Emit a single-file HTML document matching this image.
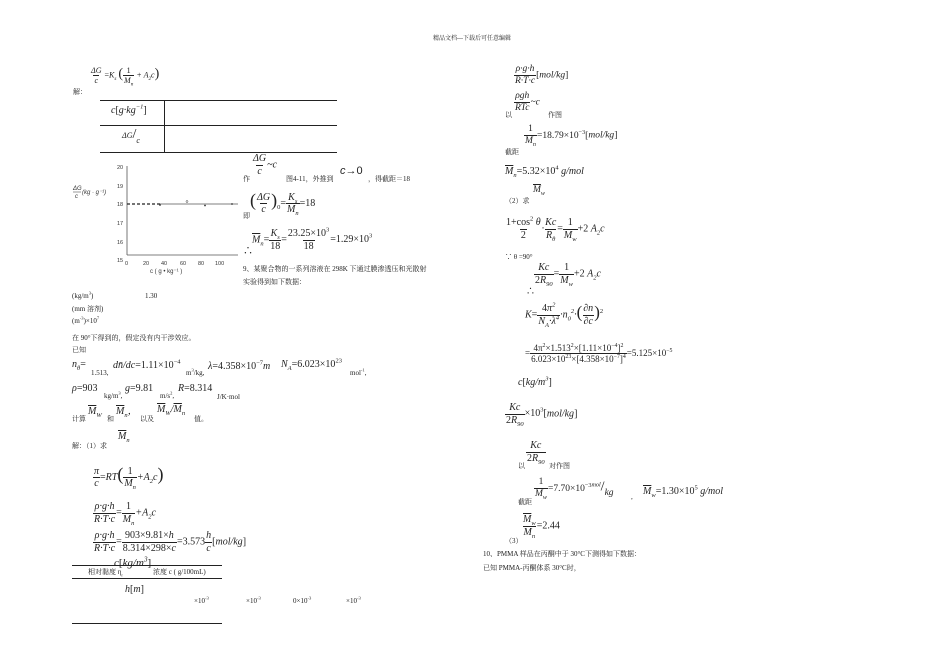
<!DOCTYPE html>
<html><head><meta charset="utf-8">
<style>
body{margin:0;background:#fff;}
#p{position:relative;width:950px;height:672px;overflow:hidden;background:#fff;font-family:"Liberation Serif","Noto Serif CJK SC","Noto Sans CJK SC",serif;color:#222;}
.a{position:absolute;white-space:nowrap;line-height:1;}
.s{font-size:7px;}
.m{font-size:10px;font-style:italic;}
.f{display:inline-flex;flex-direction:column;align-items:center;vertical-align:middle;}
.f>span{padding:0 1px;line-height:1.15;}
.f>span+span{border-top:1px solid #222;}
.l{position:absolute;background:#222;}
sup,sub{font-size:65%;line-height:0;}
.up{font-style:normal;}
.ob{text-decoration:overline;}
</style></head><body><div id="p">

<div class="a" style="left:433px;top:36px;font-size:6px;">精品文档---下载后可任意编辑</div>

<!-- Left column -->
<div class="a m" style="left:90px;top:66px;font-size:8px;"><span class="f"><span>ΔG</span><span>c</span></span> <span class="up">=</span>K<sub>s</sub> <span style="font-size:14px;font-style:normal;">(</span><span class="f"><span class="up">1</span><span>M<sub>n</sub></span></span> + A<sub>2</sub>c<span style="font-size:14px;font-style:normal;">)</span></div>
<div class="a s" style="left:73px;top:89px;">解：</div>

<div class="l" style="left:100px;top:100px;width:237px;height:1px;"></div>
<div class="l" style="left:100px;top:125px;width:237px;height:1px;"></div>
<div class="l" style="left:100px;top:152px;width:237px;height:1px;"></div>
<div class="l" style="left:164px;top:100px;width:1px;height:52px;"></div>
<div class="a m" style="left:111px;top:106px;">c<span class="up">[</span>g·kg<sup>−1</sup><span class="up">]</span></div>
<div class="a m" style="left:122px;top:128px;font-size:8px;">ΔG<span style="font-size:14px;font-style:normal;">/</span><span style="position:relative;top:5px;">c</span></div>

<!-- chart -->
<svg class="a" style="left:70px;top:160px;" width="180" height="115" viewBox="70 160 180 115">
<g font-family="Liberation Sans,sans-serif" font-size="5.5" fill="#333">
<line x1="127" y1="166" x2="127" y2="255" stroke="#555" stroke-width="0.8"/>
<line x1="127" y1="255" x2="238" y2="255" stroke="#555" stroke-width="0.8"/>
<text x="117" y="169">20</text><text x="117" y="188">19</text><text x="117" y="206">18</text>
<text x="117" y="225">17</text><text x="117" y="244">16</text><text x="117" y="262">15</text>
<text x="125" y="265">0</text><text x="143" y="265">20</text><text x="161" y="265">40</text>
<text x="180" y="265">60</text><text x="198" y="265">80</text><text x="215" y="265">100</text>
<text x="150" y="273" font-size="6">c ( g • kg⁻¹ )</text>
<text x="73" y="190" font-style="italic" font-size="6">ΔG</text>
<line x1="73" y1="192" x2="81" y2="192" stroke="#333" stroke-width="0.5"/>
<text x="75" y="198" font-style="italic" font-size="6">c</text>
<text x="82" y="194" font-style="italic" font-size="6">(kg · g⁻¹)</text>
<line x1="127" y1="204" x2="160" y2="204" stroke="#222" stroke-width="1.2" stroke-dasharray="3,2"/>
<line x1="160" y1="204" x2="238" y2="204" stroke="#555" stroke-width="0.7"/>
<circle cx="160" cy="205" r="0.9" fill="#333"/>
<circle cx="187" cy="201.5" r="1" fill="none" stroke="#333" stroke-width="0.5"/>
<circle cx="205" cy="205.5" r="0.9" fill="#333"/>
<circle cx="232" cy="204" r="0.9" fill="#333"/>
</g></svg>

<div class="a m" style="left:252px;top:153px;"><span class="f"><span>ΔG</span><span>c</span></span>~c</div>
<div class="a s" style="left:243px;top:176px;">作</div>
<div class="a s" style="left:286px;top:176px;">图4-11，外推到</div>
<div class="a" style="left:340px;top:166px;font-size:11px;font-family:'Liberation Sans',sans-serif;font-style:italic;">c<span style="font-style:normal;">→0</span></div>
<div class="a s" style="left:368px;top:176px;">，得截距＝18</div>

<div class="a m" style="left:250px;top:191px;"><span style="font-size:18px;font-style:normal;">(</span><span class="f"><span>ΔG</span><span>c</span></span><span style="font-size:18px;font-style:normal;">)</span><sub class="up">0</sub><span class="up">=</span><span class="f"><span>K<sub>s</sub></span><span>M<sub>n</sub></span></span><span class="up">=18</span></div>
<div class="a s" style="left:243px;top:213px;">即</div>

<div class="a m" style="left:252px;top:228px;"><span class="ob">M</span><sub>n</sub><span class="up">=</span><span class="f"><span>K<sub>s</sub></span><span class="up">18</span></span><span class="up">=</span><span class="f"><span class="up">23.25×10<sup>3</sup></span><span class="up">18</span></span><span class="up">=1.29×10<sup>3</sup></span></div>
<div class="a" style="left:243px;top:247px;font-size:10px;">∴</div>

<div class="a s" style="left:243px;top:266px;">9、某聚合物的一系列溶液在 298K 下通过膜渗透压和光散射</div>
<div class="a s" style="left:243px;top:279px;">实验得到如下数据：</div>

<div class="a s" style="left:72px;top:293px;">(kg/m<sup>3</sup>)</div>
<div class="a s" style="left:145px;top:293px;">1.30</div>
<div class="a s" style="left:72px;top:306px;">(mm 溶剂)</div>
<div class="a s" style="left:72px;top:318px;">(m<sup>-3</sup>)×10<sup>7</sup></div>
<div class="a s" style="left:72px;top:335px;">在 90°下得到的，假定没有内干涉效应。</div>
<div class="a s" style="left:72px;top:347px;">已知</div>

<div class="a m" style="left:72px;top:360px;">n<sub>θ</sub><span class="up">=</span></div>
<div class="a s" style="left:91px;top:370px;">1.513,</div>
<div class="a m" style="left:113px;top:361px;">dn̄/dc<span class="up">=1.11×10<sup>−4</sup></span></div>
<div class="a s" style="left:186px;top:370px;">m<sup>3</sup>/kg,</div>
<div class="a m" style="left:208px;top:362px;">λ<span class="up">=4.358×10<sup>−7</sup></span>m</div>
<div class="a m" style="left:281px;top:360px;">N<sub>A</sub><span class="up">=6.023×10<sup>23</sup></span></div>
<div class="a s" style="left:350px;top:370px;">mol<sup>-1</sup>,</div>
<div class="a m" style="left:72px;top:384px;">ρ<span class="up">=903</span></div>
<div class="a s" style="left:104px;top:393px;">kg/m<sup>3</sup>,</div>
<div class="a m" style="left:125px;top:384px;">g<span class="up">=9.81</span></div>
<div class="a s" style="left:160px;top:393px;">m/s<sup>2</sup>,</div>
<div class="a m" style="left:178px;top:384px;">R<span class="up">=8.314</span></div>
<div class="a s" style="left:217px;top:394px;">J/K·mol</div>

<div class="a s" style="left:72px;top:416px;">计算</div>
<div class="a m" style="left:88px;top:407px;"><span class="ob">M</span><sub>W</sub></div>
<div class="a s" style="left:107px;top:416px;">和</div>
<div class="a m" style="left:116px;top:407px;"><span class="ob">M</span><sub>n</sub>，</div>
<div class="a s" style="left:140px;top:416px;">以及</div>
<div class="a m" style="left:157px;top:405px;"><span class="ob">M</span><sub>W</sub>/<span class="ob">M</span><sub>n</sub></div>
<div class="a s" style="left:194px;top:416px;">值。</div>

<div class="a s" style="left:72px;top:443px;">解：（1）求</div>
<div class="a m" style="left:118px;top:432px;"><span class="ob">M</span><sub>n</sub></div>

<div class="a m" style="left:93px;top:465px;"><span class="f"><span>π</span><span>c</span></span><span class="up">=</span>RT<span style="font-size:18px;font-style:normal;">(</span><span class="f"><span class="up">1</span><span>M<sub>n</sub></span></span>+A<sub>2</sub>c<span style="font-size:18px;font-style:normal;">)</span></div>
<div class="a m" style="left:93px;top:501px;"><span class="f"><span>ρ·g·h</span><span>R·T·c</span></span><span class="up">=</span><span class="f"><span class="up">1</span><span>M<sub>n</sub></span></span>+A<sub>2</sub>c</div>
<div class="a m" style="left:93px;top:530px;"><span class="f"><span>ρ·g·h</span><span>R·T·c</span></span><span class="up">=</span><span class="f up"><span>903×9.81×<i>h</i></span><span>8.314×298×<i>c</i></span></span><span class="up">=3.573</span><span class="f"><span>h</span><span>c</span></span><span class="up">[</span>mol/kg<span class="up">]</span></div>

<div class="l" style="left:72px;top:565px;width:150px;height:1px;"></div>
<div class="l" style="left:72px;top:578px;width:150px;height:1px;"></div>
<div class="a m" style="left:114px;top:558px;font-size:11px;">c<span class="up">[</span>kg/m<sup>3</sup><span class="up">]</span></div>
<div class="a s" style="left:88px;top:569px;">相对黏度 η<sub>r</sub></div>
<div class="a s" style="left:153px;top:569px;">浓度 c ( g/100mL)</div>
<div class="a m" style="left:125px;top:585px;">h<span class="up">[</span>m<span class="up">]</span></div>
<div class="a s" style="left:194px;top:598px;">×10<sup>-3</sup></div>
<div class="a s" style="left:246px;top:598px;">×10<sup>-3</sup></div>
<div class="a s" style="left:293px;top:598px;">0×10<sup>-3</sup></div>
<div class="a s" style="left:346px;top:598px;">×10<sup>-3</sup></div>
<div class="l" style="left:72px;top:623px;width:150px;height:1px;"></div>

<!-- Right column -->
<div class="a m" style="left:514px;top:64px;font-size:9.5px;"><span class="f"><span>ρ·g·h</span><span>R·T·c</span></span><span class="up">[</span>mol/kg<span class="up">]</span></div>
<div class="a m" style="left:514px;top:91px;font-size:9.5px;"><span class="f"><span>ρgh</span><span>RTc</span></span>~c</div>
<div class="a s" style="left:505px;top:112px;">以</div>
<div class="a s" style="left:548px;top:112px;">作图</div>
<div class="a m" style="left:524px;top:124px;font-size:9.5px;"><span class="f"><span class="up">1</span><span><span class="ob">M</span><sub>n</sub></span></span><span class="up">=18.79×10<sup>−3</sup>[</span>mol/kg<span class="up">]</span></div>
<div class="a s" style="left:505px;top:149px;">截距</div>
<div class="a m" style="left:505px;top:167px;font-size:10px;"><span class="ob">M</span><sub>n</sub><span class="up">=5.32×10<sup>4</sup></span> g/mol</div>
<div class="a s" style="left:505px;top:198px;">（2）求</div>
<div class="a m" style="left:533px;top:186px;font-size:9.5px;"><span class="ob">M</span><sub>w</sub></div>
<div class="a m" style="left:505px;top:217px;font-size:10px;"><span class="f"><span class="up">1+cos<sup>2</sup> <i>θ</i></span><span class="up">2</span></span>·<span class="f"><span>Kc</span><span>R<sub>θ</sub></span></span><span class="up">=</span><span class="f"><span class="up">1</span><span><span class="ob">M</span><sub>w</sub></span></span><span class="up">+2 </span>A<sub>2</sub>c</div>
<div class="a s" style="left:505px;top:254px;">∵ θ =90°</div>
<div class="a m" style="left:534px;top:262px;font-size:10px;"><span class="f"><span>Kc</span><span><span class="up">2</span>R<sub>90</sub></span></span><span class="up">=</span><span class="f"><span class="up">1</span><span><span class="ob">M</span><sub>w</sub></span></span><span class="up">+2 </span>A<sub>2</sub>c</div>
<div class="a" style="left:526px;top:287px;font-size:9px;">∴</div>
<div class="a m" style="left:525px;top:303px;font-size:10px;">K<span class="up">=</span><span class="f"><span><span class="up">4</span>π<sup>2</sup></span><span>N<sub>A</sub>·λ<sup>4</sup></span></span>·n<sub>0</sub><sup>2</sup>·<span style="font-size:17px;font-style:normal;">(</span><span class="f"><span>∂n</span><span>∂c</span></span><span style="font-size:17px;font-style:normal;">)</span><sup class="up">2</sup></div>
<div class="a up" style="left:525px;top:343px;font-size:9px;">=<span class="f"><span>4π<sup>2</sup>×1.513<sup>2</sup>×[1.11×10<sup>−4</sup>]<sup>2</sup></span><span>6.023×10<sup>23</sup>×[4.358×10<sup>−7</sup>]<sup>4</sup></span></span>=5.125×10<sup>−5</sup></div>
<div class="a m" style="left:518px;top:378px;">c<span class="up">[</span>kg/m<sup>3</sup><span class="up">]</span></div>
<div class="a m" style="left:505px;top:402px;font-size:10px;"><span class="f"><span>Kc</span><span><span class="up">2</span>R<sub>90</sub></span></span><span class="up">×10<sup>3</sup>[</span>mol/kg<span class="up">]</span></div>
<div class="a m" style="left:526px;top:440px;font-size:10px;"><span class="f"><span>Kc</span><span><span class="up">2</span>R<sub>90</sub></span></span></div>
<div class="a s" style="left:518px;top:463px;">以</div>
<div class="a s" style="left:549px;top:463px;">对作图</div>
<div class="a m" style="left:534px;top:477px;font-size:9.5px;"><span class="f"><span class="up">1</span><span><span class="ob">M</span><sub>w</sub></span></span><span class="up">=7.70×10<sup>−3</sup></span><sup>mol</sup><span style="font-size:14px;font-style:normal;">/</span><span style="position:relative;top:4px;">kg</span></div>
<div class="a s" style="left:631px;top:494px;">,</div>
<div class="a m" style="left:643px;top:487px;font-size:10px;"><span class="ob">M</span><sub>w</sub><span class="up">=1.30×10<sup>5</sup></span> g/mol</div>
<div class="a s" style="left:518px;top:499px;">截距</div>
<div class="a m" style="left:522px;top:514px;font-size:10px;"><span class="f"><span><span class="ob">M</span><sub>w</sub></span><span><span class="ob">M</span><sub>n</sub></span></span><span class="up">=2.44</span></div>
<div class="a s" style="left:505px;top:538px;">（3）</div>
<div class="a s" style="left:483px;top:551px;">10、PMMA 样品在丙酮中于 30°C下测得如下数据：</div>
<div class="a s" style="left:483px;top:565px;">已知 PMMA-丙酮体系 30°C时，</div>

</div></body></html>
